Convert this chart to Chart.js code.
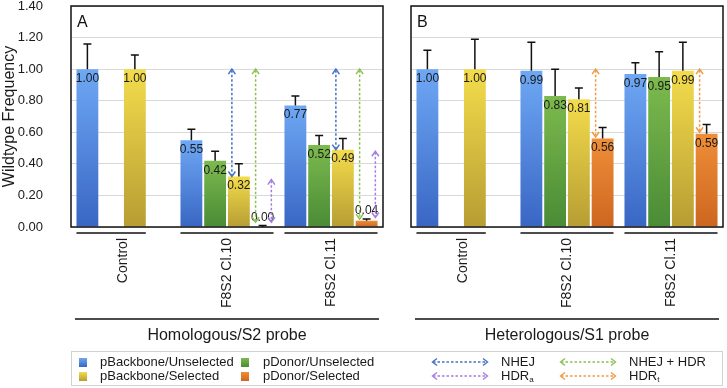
<!DOCTYPE html>
<html>
<head>
<meta charset="utf-8">
<script src="https://cdn.jsdelivr.net/npm/chart.js@4.4.0/dist/chart.umd.min.js"></script>
<style>
  body { margin: 0; background: #fff; font-family: 'Liberation Sans', Arial, sans-serif; }
  #wrap { position: relative; width: 727px; height: 388px; overflow: hidden; }
  #wrap canvas { position: absolute; top: 0; }
  #chartA { left: 0; }
  #chartB { left: 395px; }
  #legend { position: absolute; left: 71px; top: 351px; width: 652px; height: 35px;
            border: 1px solid #d2d2d2; box-sizing: border-box; font-size: 13px; color: #1a1a1a; }
  .item { position: absolute; white-space: nowrap; line-height: 14px; height: 14px; }
  .sw { position: absolute; width: 8px; height: 9px; }
  .item sub { font-size: 8px; vertical-align: -2px; line-height: 0; }
</style>
</head>
<body>
<div id="wrap">
  <canvas id="chartA" width="395" height="388"></canvas>
  <canvas id="chartB" width="332" height="388"></canvas>
  <div id="legend"></div>
</div>
<script>
// categories and series
const groups = ['Control', 'F8S2 Cl.10', 'F8S2 Cl.11'];
const seriesNames = ['pBackbone/Unselected', 'pDonor/Unselected', 'pBackbone/Selected', 'pDonor/Selected'];
const yTicks = { min: 0, max: 1.4, step: 0.2 };

// Homologous/S2 probe (panel A)
const homBackboneUnsel = [1.00, 0.55, 0.77];
const homDonorUnsel    = [null, 0.42, 0.52];
const homBackboneSel   = [1.00, 0.32, 0.49];
const homDonorSel      = [null, 0.00, 0.04];
// upper end of the error bars
const homBackboneUnselErr = [1.16, 0.62, 0.83];
const homDonorUnselErr    = [null, 0.48, 0.58];
const homBackboneSelErr   = [1.09, 0.40, 0.56];
const homDonorSelErr      = [null, 0.01, 0.05];

// Heterologous/S1 probe (panel B)
const hetBackboneUnsel = [1.00, 0.99, 0.97];
const hetDonorUnsel    = [null, 0.83, 0.95];
const hetBackboneSel   = [1.00, 0.81, 0.99];
const hetDonorSel      = [null, 0.56, 0.59];
const hetBackboneUnselErr = [1.12, 1.17, 1.04];
const hetDonorUnselErr    = [null, 1.00, 1.11];
const hetBackboneSelErr   = [1.19, 0.88, 1.17];
const hetDonorSelErr      = [null, 0.63, 0.65];

// dashed double arrows: group, bar it sits on, side of that bar, from -> to value, kind
const arrowKinds = ['NHEJ', 'NHEJ + HDR', 'HDRa', 'HDRt'];
const homArrows = [
  { group: 1, bar: 2, side: 'left',  from: 1.00, to: 0.32, kind: 0 },
  { group: 1, bar: 3, side: 'left',  from: 1.00, to: 0.03, kind: 1 },
  { group: 1, bar: 3, side: 'right', from: 0.30, to: 0.03, kind: 2 },
  { group: 2, bar: 2, side: 'left',  from: 1.00, to: 0.49, kind: 0 },
  { group: 2, bar: 3, side: 'left',  from: 1.00, to: 0.05, kind: 1 },
  { group: 2, bar: 3, side: 'right', from: 0.48, to: 0.06, kind: 2 }
];
const hetArrows = [
  { group: 1, bar: 3, side: 'left', from: 1.00, to: 0.57, kind: 3 },
  { group: 2, bar: 3, side: 'left', from: 1.00, to: 0.60, kind: 3 }
];

// styles
const barColors = [
  ['#6ea8f4', '#3966c4'],
  ['#7cba4e', '#4a8b36'],
  ['#f3dc4c', '#b79d33'],
  ['#ef8e38', '#cd6620']
];
const arrowColors = ['#4472c4', '#8cc152', '#a47ee2', '#ef9b45'];
const FONT = "'Liberation Sans', Arial, sans-serif";

function gradientFor(idx) {
  return function (context) {
    const chart = context.chart;
    const [top, bottom] = barColors[idx];
    if (!chart.chartArea || !context.parsed || context.parsed.y == null) return top;
    const ys = chart.scales.y;
    const y0 = ys.getPixelForValue(context.parsed.y);
    const y1 = ys.getPixelForValue(0);
    if (y1 - y0 < 2) return bottom;
    const g = chart.ctx.createLinearGradient(0, y0, 0, y1);
    g.addColorStop(0, top);
    g.addColorStop(1, bottom);
    return g;
  };
}

function drawArrow(ctx, x, ya, yb, color) {
  const top = Math.min(ya, yb), bot = Math.max(ya, yb);
  ctx.save();
  ctx.strokeStyle = color;
  ctx.lineWidth = 1.5;
  ctx.setLineDash([2.5, 2]);
  ctx.beginPath();
  ctx.moveTo(x, top + 1);
  ctx.lineTo(x, bot - 1);
  ctx.stroke();
  ctx.setLineDash([]);
  ctx.beginPath();
  ctx.moveTo(x - 3.5, top + 5); ctx.lineTo(x, top); ctx.lineTo(x + 3.5, top + 5);
  ctx.moveTo(x - 3.5, bot - 5); ctx.lineTo(x, bot); ctx.lineTo(x + 3.5, bot - 5);
  ctx.stroke();
  ctx.restore();
}

const extras = {
  id: 'extras',
  afterDatasetsDraw(chart, args, opts) {
    const ctx = chart.ctx;
    const ys = chart.scales.y;
    ctx.save();
    // error bars
    ctx.strokeStyle = '#111';
    ctx.lineWidth = 1.5;
    chart.data.datasets.forEach((ds, d) => {
      const meta = chart.getDatasetMeta(d);
      ds.data.forEach((v, i) => {
        if (v == null) return;
        const el = meta.data[i];
        const ye = ys.getPixelForValue(opts.errors[d][i]);
        ctx.beginPath();
        ctx.moveTo(el.x, el.y);
        ctx.lineTo(el.x, ye);
        ctx.moveTo(el.x - 4, ye);
        ctx.lineTo(el.x + 4, ye);
        ctx.stroke();
      });
    });
    // value labels
    ctx.fillStyle = '#1a1a1a';
    ctx.font = '12px ' + FONT;
    ctx.textAlign = 'center';
    chart.data.datasets.forEach((ds, d) => {
      const meta = chart.getDatasetMeta(d);
      ds.data.forEach((v, i) => {
        if (v == null) return;
        const el = meta.data[i];
        if (v >= 0.1) {
          ctx.textBaseline = 'top';
          ctx.fillText(v.toFixed(2), el.x, el.y + 3.5);
        } else {
          const ye = ys.getPixelForValue(opts.errors[d][i]);
          ctx.textBaseline = 'bottom';
          ctx.fillText(v.toFixed(2), el.x, Math.min(el.y, ye) - 2);
        }
      });
    });
    ctx.restore();
    // arrows
    opts.arrows.forEach(a => {
      const el = chart.getDatasetMeta(a.bar).data[a.group];
      const x = el.x + (a.side === 'left' ? -0.32 : 0.4) * el.width;
      drawArrow(ctx, x, ys.getPixelForValue(a.from), ys.getPixelForValue(a.to), arrowColors[a.kind]);
    });
  },
  afterDraw(chart, args, opts) {
    const ctx = chart.ctx;
    const area = chart.chartArea;
    ctx.save();
    ctx.strokeStyle = '#111';
    ctx.lineWidth = 1.5;
    ctx.strokeRect(area.left, area.top, area.right - area.left, area.bottom - area.top);
    // panel letter
    ctx.fillStyle = '#111';
    ctx.font = '16px ' + FONT;
    ctx.textAlign = 'left';
    ctx.textBaseline = 'alphabetic';
    ctx.fillText(opts.letter, area.left + 6, area.top + 21);
    // group brackets under each category
    ctx.lineWidth = 1.3;
    const by = area.bottom + 6;
    chart.data.labels.forEach((lab, i) => {
      let l = Infinity, r = -Infinity;
      chart.data.datasets.forEach((ds, d) => {
        if (ds.data[i] == null) return;
        const el = chart.getDatasetMeta(d).data[i];
        l = Math.min(l, el.x - el.width / 2);
        r = Math.max(r, el.x + el.width / 2);
      });
      ctx.beginPath();
      ctx.moveTo(l, by);
      ctx.lineTo(r, by);
      ctx.stroke();
    });
    // long line above probe title
    const ly = area.bottom + 92;
    ctx.beginPath();
    ctx.moveTo(area.left + 4, ly);
    ctx.lineTo(area.right - 4, ly);
    ctx.stroke();
    ctx.restore();
  }
};

function makeDatasets(series) {
  return series.map((data, i) => ({
    label: seriesNames[i],
    data: data,
    backgroundColor: gradientFor(i),
    borderWidth: 0,
    categoryPercentage: 0.913,
    barPercentage: 0.92
  }));
}

function makeChart(id, series, errors, arrows, letter, probe, showY, pad) {
  return new Chart(document.getElementById(id), {
    type: 'bar',
    data: { labels: groups, datasets: makeDatasets(series) },
    plugins: [extras],
    options: {
      responsive: false,
      animation: false,
      layout: { padding: pad },
      plugins: {
        legend: { display: false },
        tooltip: { enabled: false },
        extras: { errors: errors, arrows: arrows, letter: letter }
      },
      scales: {
        x: {
          grid: { display: false, drawTicks: false },
          border: { display: false },
          ticks: { minRotation: 90, maxRotation: 90, autoSkip: false, padding: 11,
                   color: '#1a1a1a', font: { size: 14, family: FONT } },
          title: { display: true, text: probe, color: '#1a1a1a', padding: 0,
                   font: { size: 16, family: FONT } },
          afterFit(s) { s.height = 118; s.paddingLeft = 0; s.paddingRight = 0; }
        },
        y: {
          min: yTicks.min,
          max: yTicks.max,
          grid: { color: '#d9d9d9', drawTicks: false },
          border: { display: false },
          ticks: { display: showY, stepSize: yTicks.step, padding: 28, color: '#1a1a1a',
                   font: { size: 13, family: FONT },
                   callback: v => Number(v).toFixed(2) },
          title: { display: showY, text: 'Wildtype Frequency', color: '#1a1a1a', padding: 0,
                   font: { size: 16, family: FONT } },
          afterFit(s) { s.width = showY ? 71 : 0; s.paddingTop = 0; s.paddingBottom = 0; }
        }
      }
    }
  });
}

makeChart('chartA',
  [homBackboneUnsel, homDonorUnsel, homBackboneSel, homDonorSel],
  [homBackboneUnselErr, homDonorUnselErr, homBackboneSelErr, homDonorSelErr],
  homArrows, 'A', 'Homologous/S2 probe', true,
  { top: 6, right: 12, bottom: 43, left: 0 });

makeChart('chartB',
  [hetBackboneUnsel, hetDonorUnsel, hetBackboneSel, hetDonorSel],
  [hetBackboneUnselErr, hetDonorUnselErr, hetBackboneSelErr, hetDonorSelErr],
  hetArrows, 'B', 'Heterologous/S1 probe', false,
  { top: 6, right: 4, bottom: 43, left: 16 });

// legend (series swatches and arrow kinds)
const legend = document.getElementById('legend');
const swatchCols = [[7, 28], [169, 191]];
const arrowCols = [[359, 423], [487, 551]];
const rowTops = [3, 17];

function arrowSvg(color, w) {
  return '<svg width="' + w + '" height="10" style="position:absolute;left:0;top:2px">' +
    '<line x1="2" y1="5" x2="' + (w - 2) + '" y2="5" stroke="' + color + '" stroke-width="1.4" stroke-dasharray="2.5 2"/>' +
    '<polyline points="6,1.5 1.5,5 6,8.5" fill="none" stroke="' + color + '" stroke-width="1.4"/>' +
    '<polyline points="' + (w - 6) + ',1.5 ' + (w - 1.5) + ',5 ' + (w - 6) + ',8.5" fill="none" stroke="' + color + '" stroke-width="1.4"/>' +
    '</svg>';
}

// series order in legend: column by column as in the figure
const seriesLegendOrder = [[0, 0, 0], [2, 0, 1], [1, 1, 0], [3, 1, 1]];
seriesLegendOrder.forEach(([s, c, r]) => {
  const sw = document.createElement('div');
  sw.className = 'sw';
  sw.style.left = swatchCols[c][0] + 'px';
  sw.style.top = (rowTops[r] + 3) + 'px';
  sw.style.background = 'linear-gradient(' + barColors[s][0] + ',' + barColors[s][1] + ')';
  legend.appendChild(sw);
  const tx = document.createElement('div');
  tx.className = 'item';
  tx.style.left = swatchCols[c][1] + 'px';
  tx.style.top = rowTops[r] + 'px';
  tx.textContent = seriesNames[s];
  legend.appendChild(tx);
});

const arrowLegendOrder = [[0, 0, 0], [1, 1, 0], [2, 0, 1], [3, 1, 1]];
arrowLegendOrder.forEach(([k, c, r]) => {
  const box = document.createElement('div');
  box.className = 'item';
  box.style.left = arrowCols[c][0] + 'px';
  box.style.top = rowTops[r] + 'px';
  box.style.width = (arrowCols[c][1] - arrowCols[c][0]) + 'px';
  box.innerHTML = arrowSvg(arrowColors[k], arrowCols[c][1] - arrowCols[c][0] - 6);
  legend.appendChild(box);
  const tx = document.createElement('div');
  tx.className = 'item';
  tx.style.left = (arrowCols[c][1] + 6) + 'px';
  tx.style.top = rowTops[r] + 'px';
  const name = arrowKinds[k];
  if (name === 'HDRa' || name === 'HDRt') {
    tx.innerHTML = 'HDR<sub>' + name.slice(3) + '</sub>';
  } else {
    tx.textContent = name;
  }
  legend.appendChild(tx);
});
</script>
</body>
</html>
